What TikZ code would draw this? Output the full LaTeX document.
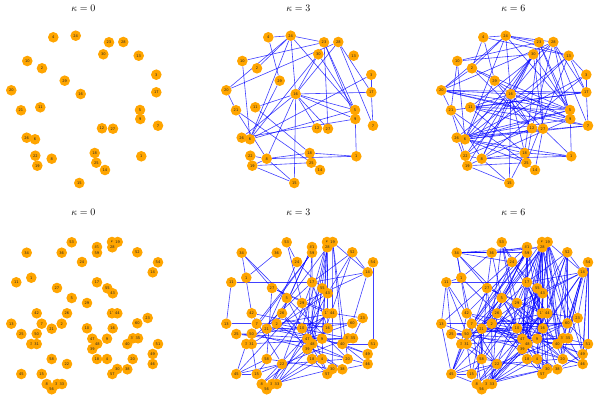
\documentclass[tikz,border=0pt]{standalone}
\usepackage{fontspec}
\newfontfamily\labfont{DejaVu Sans}
\definecolor{nodeor}{HTML}{FFA500}
\definecolor{edgeblue}{HTML}{0000FF}
\pgfdeclarelayer{background}
\pgfsetlayers{background,main}
\tikzset{
  gnode/.style={circle,fill=nodeor,draw=none,minimum size=10.6pt,inner sep=0pt,
    font=\labfont\fontsize{3.6}{4}\selectfont,text=black!85},
  edge/.style={draw=edgeblue,draw opacity=0.75,line width=0.6pt},
  paneltitle/.style={font=\fontsize{10}{12}\selectfont,inner sep=0pt}
}
\newcommand\topnodes{4/53.3/37.3, 24/75.7/35.7, 23/109/42.3, 28/123.3/42, 30/103.3/54.3,
13/138.7/55.7, 10/27.3/61, 2/42/68.3, 3/156.3/74.7, 29/64.7/80.7, 20/11.3/90.3, 16/80.7/94,
17/156.3/92.3, 21/21/110.3, 11/40.3/107.3, 5/140/110, 9/140.3/119, 7/158/125.7, 12/102/128.3,
27/113/128.7, 26/26.7/137.7, 6/35/139.3, 22/35.3/155.7, 8/51.7/158.7, 18/94.7/153, 1/141.3/156.3,
19/37.3/165.7, 25/96.3/162.7, 14/105/170, 15/79.3/183}
\newcommand\botnodes{53/71.7/242.3, 34/26.7/252.7, 36/61.7/252.7, 41/97/247, 59/97/252.7,
6/112/242, 19/117.7/242, 28/112.3/247.3, 52/137.3/252.3, 24/82/262, 54/158/262.3, 14/152.7/272.3,
1/31.3/277.7, 11/16.3/282.3, 17/97/282.3, 55/107.3/288.3, 27/57/288, 43/112.7/293.3, 5/71.7/298,
29/87/303, 42/36.7/313.3, 26/67/313.3, 12/112/313.3, 44/117.3/313.3, 23/147.7/318, 13/11.3/323.7,
7/41.7/323.7, 21/51.7/328.7, 2/61.7/323.7, 60/137.3/323.3, 10/87/328.3, 16/112.7/328.3,
25/21.3/334, 50/36.7/333.7, 47/92.3/338.7, 9/107/338.7, 32/133/338.3, 35/138/338.3, 3/31.3/344,
31/36.7/344, 48/97.3/343.7, 40/127.3/344, 51/158/344, 39/92.3/349, 49/152.7/354, 58/51.7/359,
18/97/359, 4/107/359, 20/132.7/359, 22/67/364, 46/152.7/364, 30/117.3/369, 38/127.3/369.3,
45/21.3/374, 15/41.7/374, 57/112.3/374, 8/46.7/384, 37/57.3/384, 33/62/384, 56/51.7/389.3}
\newcommand\topedgesA{4/24, 4/29, 24/23, 24/16, 24/5, 24/20, 24/6, 10/23, 10/6, 20/28, 20/21,
23/27, 23/5, 23/9, 28/17, 28/7, 28/16, 30/6, 30/5, 16/5, 16/9, 16/17, 16/27, 16/15, 16/26, 16/8,
16/11, 16/12, 3/6, 17/7, 3/17, 9/1, 9/26, 21/25, 21/8, 11/18, 8/1, 18/1, 8/15, 19/25, 19/15,
29/6, 25/14, 8/18, 6/5, 2/24, 22/8, 19/8, 30/16}
\newcommand\topedgesB{20/5, 20/9, 20/16, 20/17, 2/5, 2/12, 29/9, 11/7, 11/27, 10/30, 24/13,
24/28, 30/22, 30/8, 30/19, 23/18, 28/12, 13/6, 13/22, 3/8, 17/11, 17/21, 5/26, 7/6, 7/26, 9/8,
27/6, 12/22, 18/26, 25/6, 14/27, 15/18, 1/6, 21/22, 26/19, 10/21, 4/2, 2/29, 29/16, 16/18,
12/25, 28/9, 30/27, 3/13, 13/17, 1/27, 4/13, 2/20, 20/7, 29/12, 11/5, 13/25, 28/11}
\newcommand\botedgesA{11/13, 11/17, 1/36, 34/27, 34/5, 34/42, 53/29, 53/24, 6/16, 6/9, 6/47,
6/10, 6/4, 19/30, 19/40, 19/20, 19/14, 28/18, 28/39, 28/21, 28/43, 41/26, 41/48, 41/2, 59/7,
59/50, 59/47, 52/43, 52/14, 52/17, 52/9, 54/51, 54/14, 14/17, 14/29, 14/60, 24/55, 24/21, 17/3,
17/22, 17/16, 55/15, 55/48, 27/12, 27/44, 27/58, 43/31, 43/33, 5/10, 5/20, 29/45, 29/57, 42/16,
42/22, 26/47, 26/18, 12/8, 12/37, 44/23, 44/2, 23/60, 23/35, 7/9, 7/60, 21/10, 21/40, 2/32,
2/38, 60/50, 60/47, 10/44, 16/33, 25/48, 25/9, 50/46, 47/57, 9/35, 9/49, 32/15, 35/3, 3/45,
31/15, 48/20, 40/49, 40/46, 51/40, 39/8, 49/46, 58/30, 18/56, 4/33, 4/38, 20/22, 22/45, 22/56,
22/37, 30/37, 38/46, 45/58, 45/15, 57/18, 13/7, 25/50, 51/49}
\newcommand\botedgesB{34/1, 34/24, 34/59, 36/27, 36/41, 53/2, 53/10, 41/17, 41/13, 59/42,
59/21, 59/39, 6/55, 6/29, 6/57, 6/40, 19/12, 19/23, 19/60, 19/43, 28/5, 28/48, 28/20, 28/58,
52/60, 52/40, 52/44, 54/23, 54/32, 14/9, 14/43, 14/16, 24/12, 24/50, 1/11, 1/26, 1/7, 11/25,
17/47, 17/38, 55/9, 55/30, 55/39, 27/2, 27/31, 43/10, 43/4, 5/50, 5/48, 5/16, 29/21, 29/40,
42/3, 42/47, 26/9, 26/33, 12/47, 12/20, 44/39, 44/4, 23/49, 23/16, 13/50, 13/45, 7/47, 7/48,
21/58, 21/15, 2/60, 2/18, 60/48, 60/51, 10/8, 10/30, 16/25, 16/46, 25/31, 50/22, 47/40, 9/20,
9/37, 32/51, 35/46, 3/58, 31/22, 48/56, 40/4, 39/37, 18/38, 4/57, 20/46, 22/33, 30/8, 45/8,
15/56, 58/37, 49/38, 51/46, 36/5, 53/44, 41/16, 59/35, 6/31, 19/49, 28/60, 52/20, 54/49,
34/36, 34/28, 36/28, 54/46, 14/32, 14/35, 14/20, 11/42, 11/50, 45/50, 45/7, 45/31, 8/21,
33/2, 56/7}
\begin{document}
\begin{tikzpicture}[x=1pt,y=-1pt]
\useasboundingbox (0,0) rectangle (598,401);
% titles
\node[paneltitle] (tA) at (83.3,8.5) {$\kappa=0$};
\node[paneltitle] (tB) at (298.3,8.5) {$\kappa=3$};
\node[paneltitle] (tC) at (513.3,8.5) {$\kappa=6$};
\node[paneltitle] (tD) at (83.3,212.7) {$\kappa=0$};
\node[paneltitle] (tE) at (298.3,212.7) {$\kappa=3$};
\node[paneltitle] (tF) at (513.3,212.7) {$\kappa=6$};
% nodes
\foreach \p/\dx in {A/0,B/215,C/430}{
  \foreach \n/\x/\y in \topnodes {\node[gnode] (\p\n) at (\x+\dx,\y) {\n};}
}
\foreach \p/\dx in {D/0,E/215,F/430}{
  \foreach \n/\x/\y in \botnodes {\node[gnode] (\p\n) at (\x+\dx,\y) {\n};}
}
% edges
\begin{pgfonlayer}{background}
\foreach \u/\v in \topedgesA {\draw[edge] (B\u) -- (B\v); \draw[edge] (C\u) -- (C\v);}
\foreach \u/\v in \topedgesB {\draw[edge] (C\u) -- (C\v);}
\foreach \u/\v in \botedgesA {\draw[edge] (E\u) -- (E\v); \draw[edge] (F\u) -- (F\v);}
\foreach \u/\v in \botedgesB {\draw[edge] (F\u) -- (F\v);}
\end{pgfonlayer}
\end{tikzpicture}
\end{document}
